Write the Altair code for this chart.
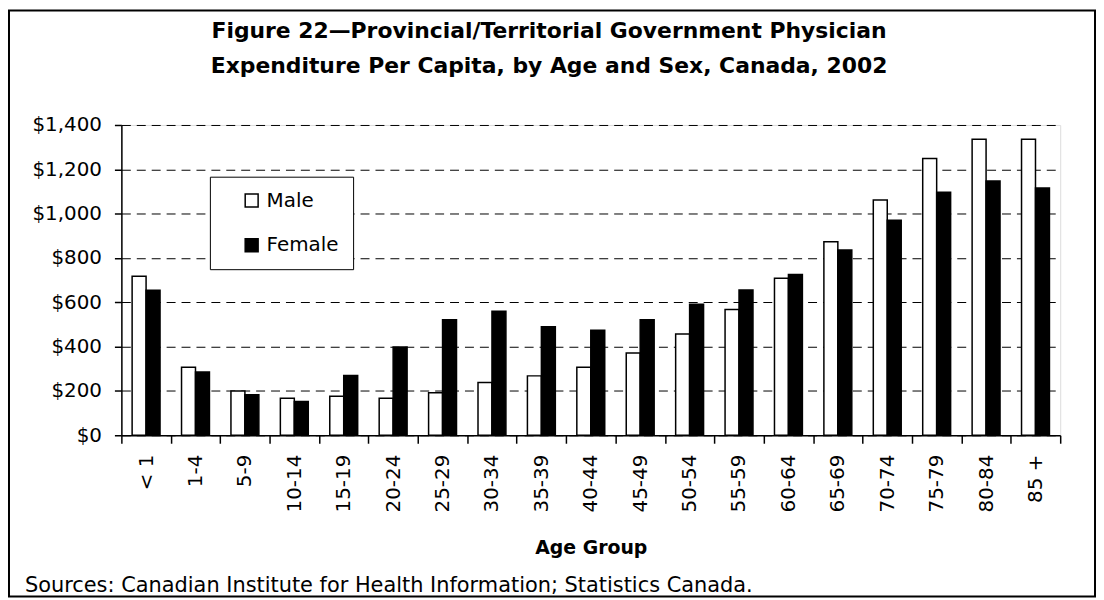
import altair as alt
import pandas as pd

age_groups = ["< 1", "1-4", "5-9", "10-14", "15-19", "20-24", "25-29", "30-34",
              "35-39", "40-44", "45-49", "50-54", "55-59", "60-64", "65-69",
              "70-74", "75-79", "80-84", "85 +"]
male = [718, 307, 200, 167, 176, 167, 192, 238, 268, 307, 371, 457, 567, 709,
        873, 1062, 1249, 1336, 1336]
female = [654, 286, 183, 152, 270, 398, 521, 560, 490, 474, 521, 591, 655, 725,
          836, 970, 1097, 1147, 1116]
sexes = ["Male", "Female"]
y_ticks = [0, 200, 400, 600, 800, 1000, 1200, 1400]
title_line1 = "Figure 22\u2014Provincial/Territorial Government Physician"
title_line2 = "Expenditure Per Capita, by Age and Sex, Canada, 2002"
x_title = "Age Group"
source_text = "Sources: Canadian Institute for Health Information; Statistics Canada."

rows = []
for a, m, f in zip(age_groups, male, female):
    rows.append({"age": a, "sex": "Male", "value": m})
    rows.append({"age": a, "sex": "Female", "value": f})
df = pd.DataFrame(rows)

W, H = 944, 312
FONT = "DejaVu Sans"

bars = alt.Chart(df).mark_bar(stroke="black", strokeWidth=1.5).encode(
    x=alt.X("age:N", sort=age_groups,
            scale=alt.Scale(paddingInner=0, paddingOuter=0),
            axis=alt.Axis(title=x_title, labelAngle=-90, tickBand="extent",
                          tickSize=8, tickWidth=1.5, tickColor="black",
                          domainColor="black", domainWidth=1.5,
                          labelPadding=11, labelFont=FONT, labelFontSize=20,
                          labelColor="black", labelOverlap=False,
                          titleFont=FONT, titleFontSize=19, titleFontWeight="bold",
                          titleColor="black", titlePadding=27, grid=False)),
    xOffset=alt.XOffset("sex:N", sort=sexes,
                        scale=alt.Scale(paddingOuter=0.77, paddingInner=0)),
    y=alt.Y("value:Q", scale=alt.Scale(domain=[0, 1400], nice=False),
            axis=alt.Axis(title=None, values=y_ticks, format="$,.0f",
                          grid=True, gridDash=[9, 6], gridColor="black",
                          gridWidth=1, tickSize=7, tickWidth=1.5,
                          tickColor="black", domainColor="black",
                          domainWidth=1.5, labelPadding=13, labelFont=FONT,
                          labelFontSize=20, labelColor="black")),
    fill=alt.Fill("sex:N", scale=alt.Scale(domain=sexes, range=["white", "black"]),
                  legend=alt.Legend(title=None, orient="none", legendX=89, legendY=52,
                                    direction="vertical", symbolType="square",
                                    symbolSize=169, symbolStrokeColor="black",
                                    symbolStrokeWidth=1.5, labelFont=FONT,
                                    labelFontSize=20, labelColor="black",
                                    labelOffset=5, rowPadding=25, padding=14,
                                    symbolOffset=18, strokeColor="black",
                                    fillColor="white")),
)

def text_layer(txt, x, y, size, weight, align):
    return alt.Chart(pd.DataFrame({"t": [txt]})).mark_text(
        align=align, baseline="alphabetic", font=FONT, fontSize=size,
        fontWeight=weight, color="black"
    ).encode(x=alt.value(x), y=alt.value(y), text="t:N")

t1 = text_layer(title_line1, 430, -87, 22, "bold", "center")
t2 = text_layer(title_line2, 430, -52, 22, "bold", "center")
src = text_layer(source_text, -97, H + 158, 21, "normal", "left")

frame = alt.Chart(pd.DataFrame({"k": [0]})).mark_rect(
    fill="transparent", stroke="black", strokeWidth=2
).encode(x=alt.value(-113), x2=alt.value(W + 35), y=alt.value(-115), y2=alt.value(H + 162))

chart = alt.layer(bars, t1, t2, src, frame).properties(
    width=W, height=H,
    autosize=alt.AutoSizeParams(type="none"),
    padding={"left": 114, "top": 116, "right": 36, "bottom": 163},
).configure_view(stroke=None).configure(background="white")

chart.save("out.html", embed_options={"renderer": "svg", "actions": False})
